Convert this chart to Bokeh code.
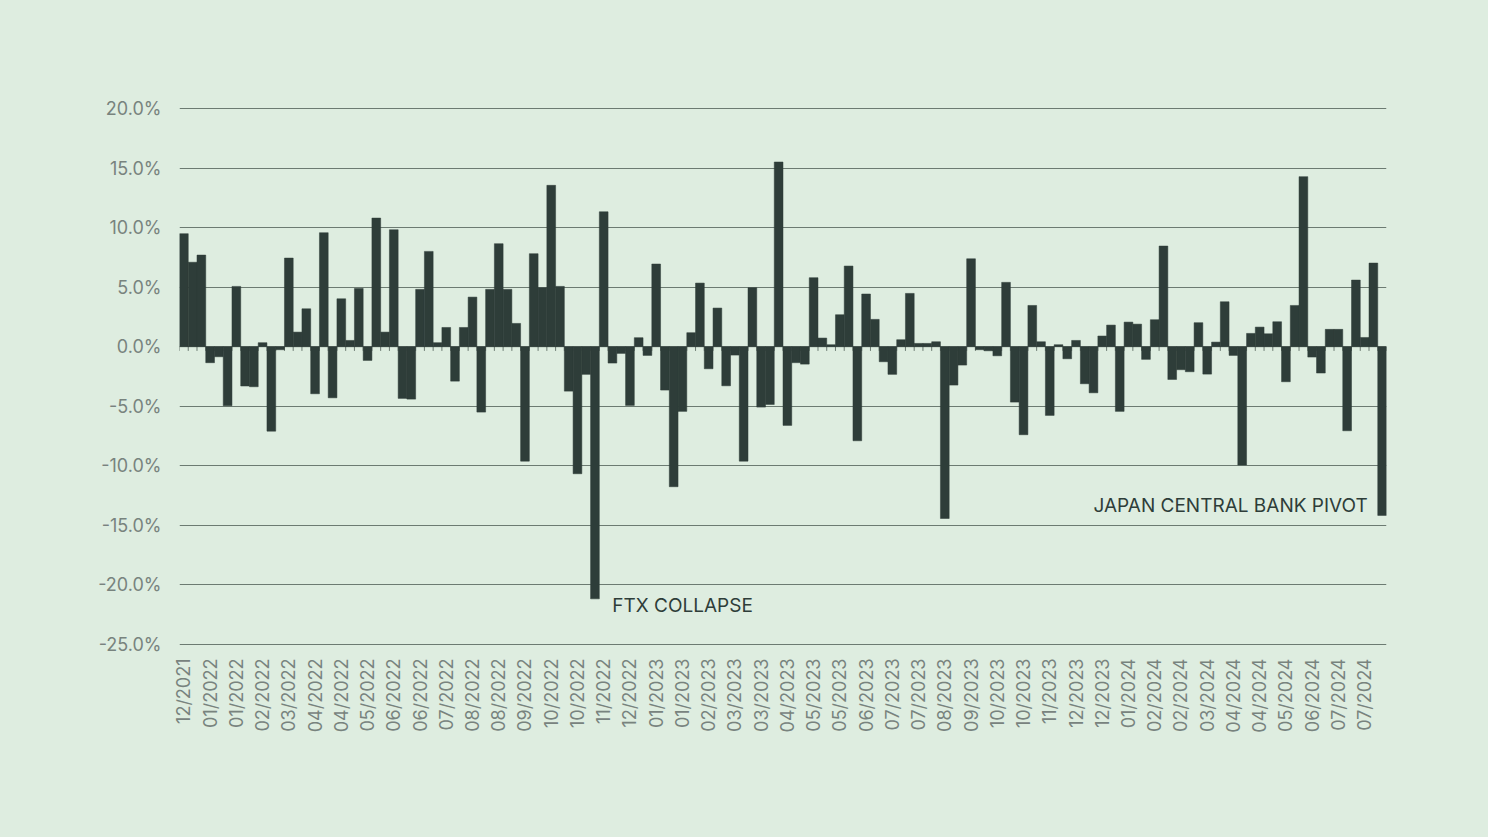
from bokeh.plotting import figure
from bokeh.models import ColumnDataSource, Range1d, FixedTicker, PrintfTickFormatter
from bokeh.embed import file_html
from bokeh.resources import INLINE
from bokeh.core.properties import value
import math

# ---- data -------------------------------------------------------------
returns = [
    9.5, 7.1, 7.7, -1.34, -0.84, -4.96, 5.07, -3.3, -3.36, 0.34,
    -7.09, -0.25, 7.45, 1.23, 3.19, -3.95, 9.58, -4.29, 4.03, 0.53,
    4.9, -1.15, 10.81, 1.23, 9.83, -4.34, -4.4, 4.82, 8.01, 0.34,
    1.62, -2.89, 1.62, 4.17, -5.49, 4.82, 8.66, 4.82, 1.96, -9.61,
    7.82, 4.96, 13.56, 5.07, -3.73, -10.67, -2.32, -21.18, 11.34, -1.37,
    -0.56, -4.93, 0.76, -0.73, 6.95, -3.64, -11.76, -5.43, 1.18, 5.35,
    -1.85, 3.25, -3.28, -0.7, -9.61, 4.96, -5.07, -4.85, 15.52, -6.61,
    -1.34, -1.46, 5.8, 0.73, 0.17, 2.69, 6.78, -7.9, 4.43, 2.3,
    -1.26, -2.32, 0.59, 4.48, 0.28, 0.28, 0.42, -14.43, -3.22, -1.54,
    7.39, -0.25, -0.34, -0.76, 5.41, -4.65, -7.39, 3.47, 0.42, -5.77,
    0.17, -1.01, 0.53, -3.11, -3.87, 0.9, 1.82, -5.43, 2.07, 1.9,
    -1.06, 2.27, 8.46, -2.75, -1.93, -2.1, 2.02, -2.3, 0.39, 3.78,
    -0.73, -9.94, 1.12, 1.65, 1.09, 2.1, -2.94, 3.47, 14.29, -0.87,
    -2.21, 1.46, 1.46, -7.06, 5.6, 0.78, 7.03, -14.17,
]

tick_labels = [
    "12/2021", "01/2022", "01/2022", "02/2022", "03/2022", "04/2022",
    "04/2022", "05/2022", "06/2022", "06/2022", "07/2022", "08/2022",
    "08/2022", "09/2022", "10/2022", "10/2022", "11/2022", "12/2022",
    "01/2023", "01/2023", "02/2023", "03/2023", "03/2023", "04/2023",
    "05/2023", "05/2023", "06/2023", "07/2023", "07/2023", "08/2023",
    "09/2023", "10/2023", "10/2023", "11/2023", "12/2023", "12/2023",
    "01/2024", "02/2024", "02/2024", "03/2024", "04/2024", "04/2024",
    "05/2024", "06/2024", "07/2024", "07/2024",
]
label_step = 3

y_ticks = [-25, -20, -15, -10, -5, 0, 5, 10, 15, 20]

note_text = ["FTX COLLAPSE", "JAPAN CENTRAL BANK PIVOT"]
note_bar = [47, 137]
note_y = [-21.7, -13.3]

# ---- style ------------------------------------------------------------
BG = "#deede0"
BAR = "#2e3d39"
GRID = "#6c7b72"
LABEL = "#78837e"
FONT = "Inter"

n = len(returns)
idx = list(range(n))

p = figure(width=1472, height=821, output_backend="svg", toolbar_location=None,
           x_range=Range1d(-0.5, n - 0.5),
           y_range=Range1d(y_ticks[0] - 0.1, y_ticks[-1] + 0.1),
           min_border_left=179, min_border_right=86, min_border_top=107,
           min_border_bottom=176)
p.background_fill_color = BG
p.border_fill_color = BG
p.outline_line_color = None

# small ticks along the zero line at bar boundaries
edges = [i - 0.5 for i in range(n + 1)]
p.segment(x0=edges, y0=[0] * len(edges), x1=edges, y1=[-0.35] * len(edges),
          line_color=GRID, line_width=1)

src = ColumnDataSource(dict(x=idx, top=returns))
p.vbar(x="x", top="top", bottom=0, width=1.0, source=src,
       fill_color=BAR, line_color=BAR, line_width=0.5)

# annotations
left_note = dict(x=[note_bar[0] + 0.5], y=[note_y[0]], t=[note_text[0]])
right_note = dict(x=[note_bar[1] - 0.5], y=[note_y[1]], t=[note_text[1]])
p.text(x="x", y="y", text="t", source=ColumnDataSource(left_note),
       x_offset=13, text_align="left", text_baseline="middle",
       text_font=value(FONT), text_font_size="19px", text_color=BAR)
p.text(x="x", y="y", text="t", source=ColumnDataSource(right_note),
       x_offset=-10, text_align="right", text_baseline="middle",
       text_font=value(FONT), text_font_size="19px", text_color=BAR)

# x axis
xt = list(range(0, n, label_step))
p.xaxis.ticker = FixedTicker(ticks=xt)
p.xaxis.major_label_overrides = {t: lab for t, lab in zip(xt, tick_labels)}
p.xaxis.major_label_orientation = math.pi / 2
p.xaxis.axis_line_color = None
p.xaxis.major_tick_line_color = None
p.xaxis.minor_tick_line_color = None
p.xaxis.major_label_standoff = 7
p.xaxis.major_label_text_font = FONT
p.xaxis.major_label_text_font_size = "18px"
p.xaxis.major_label_text_color = LABEL

# y axis
p.yaxis.ticker = FixedTicker(ticks=y_ticks)
p.yaxis.formatter = PrintfTickFormatter(format="%.1f%%")
p.yaxis.axis_line_color = None
p.yaxis.major_tick_line_color = None
p.yaxis.minor_tick_line_color = None
p.yaxis.major_label_standoff = 12
p.yaxis.major_label_text_font = FONT
p.yaxis.major_label_text_font_size = "18px"
p.yaxis.major_label_text_color = LABEL

p.xgrid.grid_line_color = None
p.ygrid.grid_line_color = GRID
p.ygrid.grid_line_width = 1

html = file_html(p, INLINE)
html = html.replace("<head>", "<head><style>html,body{background:%s;}</style>" % BG, 1)
open("out.html", "w").write(html)
